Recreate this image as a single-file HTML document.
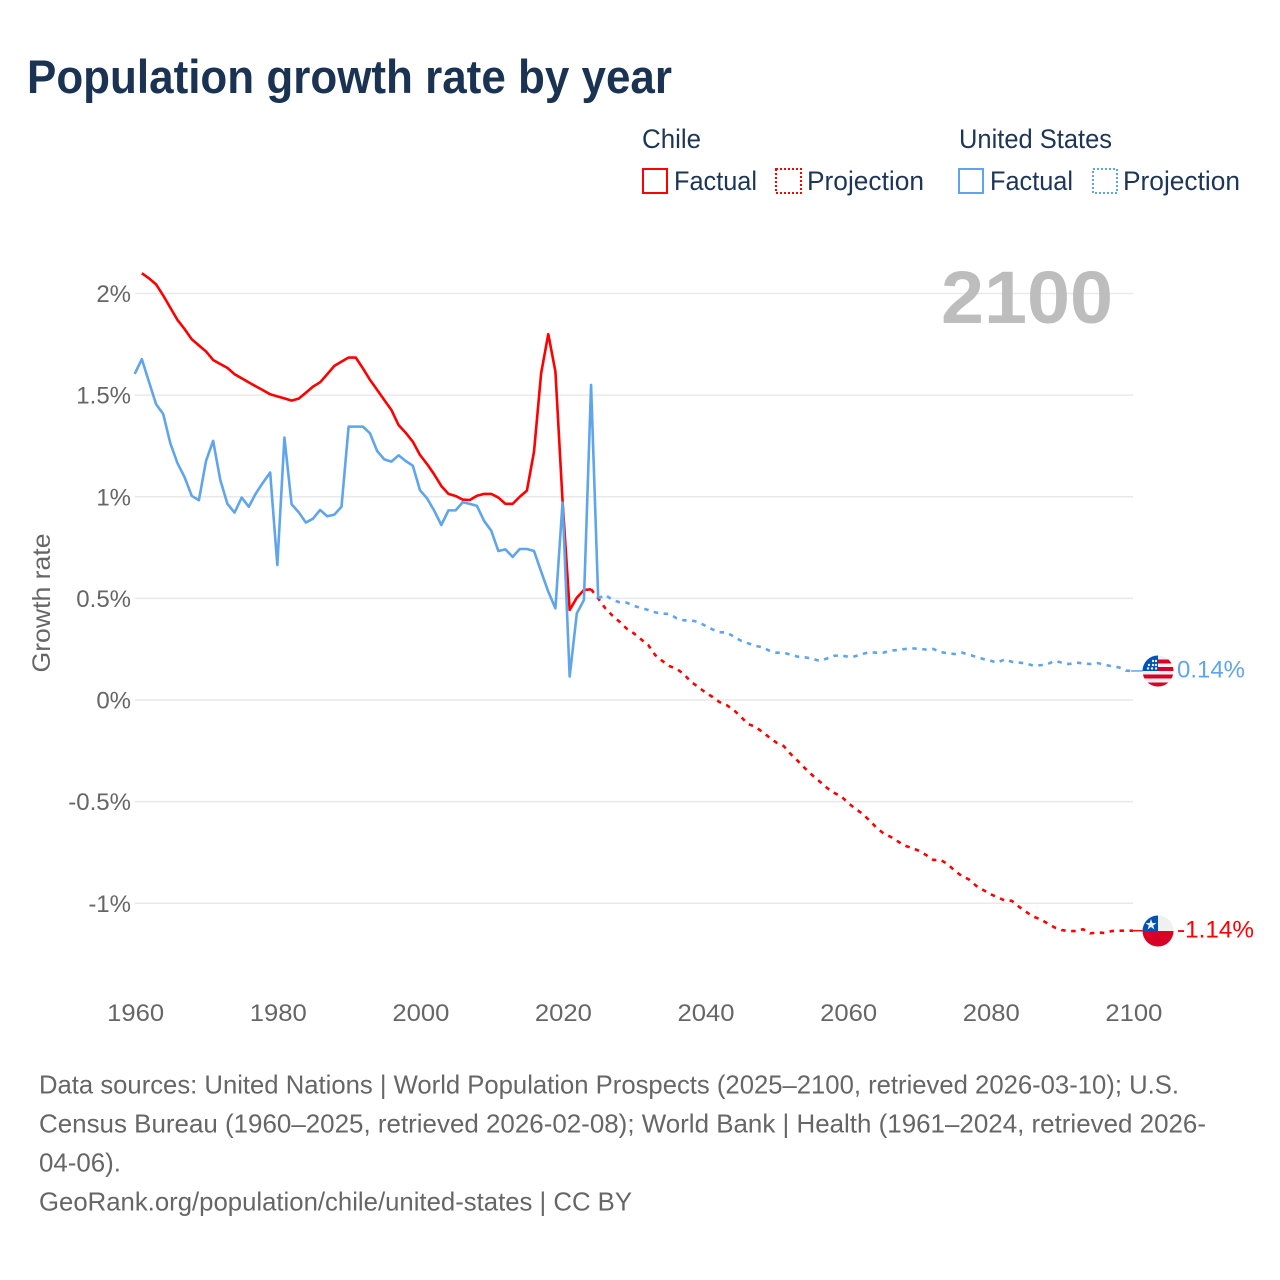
<!DOCTYPE html>
<html lang="en">
<head>
<meta charset="utf-8">
<title>Population growth rate by year</title>
<style>
html,body{margin:0;padding:0;background:#fff;}
svg{display:block;font-family:"Liberation Sans",sans-serif;}
</style>
</head>
<body>
<svg id="chart" xmlns="http://www.w3.org/2000/svg" width="1280" height="1280" viewBox="0 0 1280 1280">
  <rect width="1280" height="1280" fill="#fff"/>
  <text x="27" y="93" font-size="47" font-weight="700" fill="#1a3353" textLength="645" lengthAdjust="spacingAndGlyphs">Population growth rate by year</text>

  <g font-size="26.5" fill="#1d3557">
    <text x="642" y="148" textLength="59" lengthAdjust="spacingAndGlyphs">Chile</text>
    <text x="959" y="148" textLength="153" lengthAdjust="spacingAndGlyphs">United States</text>
    <g>
      <rect x="643" y="169" width="24" height="24" fill="none" stroke="#ff0000" stroke-width="2"/>
      <text x="674" y="190" textLength="83" lengthAdjust="spacingAndGlyphs">Factual</text>
    </g>
    <g>
      <rect x="776" y="169" width="25" height="24" fill="none" stroke="#ff0000" stroke-width="2" stroke-dasharray="2 2"/>
      <text x="807" y="190" textLength="117" lengthAdjust="spacingAndGlyphs">Projection</text>
    </g>
    <g>
      <rect x="959" y="169" width="24" height="24" fill="none" stroke="#5fa5ec" stroke-width="2"/>
      <text x="990" y="190" textLength="83" lengthAdjust="spacingAndGlyphs">Factual</text>
    </g>
    <g>
      <rect x="1093" y="169" width="24" height="24" fill="none" stroke="#5fa5ec" stroke-width="2" stroke-dasharray="2 2"/>
      <text x="1123" y="190" textLength="117" lengthAdjust="spacingAndGlyphs">Projection</text>
    </g>
  </g>

  <g id="grid"></g>
  <text x="941" y="323" font-size="74" font-weight="700" fill="#bdbdbd" textLength="172" lengthAdjust="spacingAndGlyphs">2100</text>
  <text transform="translate(50,603) rotate(-90)" text-anchor="middle" font-size="25" fill="#666" textLength="139" lengthAdjust="spacingAndGlyphs">Growth rate</text>
  <g id="yticks"></g>
  <g id="xticks"></g>
  <g id="series"></g>

  <defs>
    <clipPath id="us-clip"><circle cx="1158" cy="671" r="15.5"/></clipPath>
    <clipPath id="cl-clip"><circle cx="1158" cy="931" r="15.5"/></clipPath>
  </defs>
  <g clip-path="url(#us-clip)">
    <rect x="1142" y="655" width="32" height="32" fill="#f0f0f0"/>
    <rect x="1158" y="659.5" width="16" height="4" fill="#d80027"/>
    <rect x="1158" y="667" width="16" height="4" fill="#d80027"/>
    <rect x="1142" y="674.5" width="32" height="4" fill="#d80027"/>
    <rect x="1142" y="682.5" width="32" height="4" fill="#d80027"/>
    <rect x="1142" y="655" width="16" height="16" fill="#0052b4"/>
    <circle cx="1149" cy="665" r="1.2" fill="#f0f0f0"/>
    <circle cx="1153" cy="665" r="1.2" fill="#f0f0f0"/>
    <circle cx="1156" cy="665" r="1.2" fill="#f0f0f0"/>
    <circle cx="1153" cy="661" r="1.2" fill="#f0f0f0"/>
    <circle cx="1156" cy="661" r="1.2" fill="#f0f0f0"/>
    <circle cx="1156" cy="668.5" r="1.2" fill="#f0f0f0"/>
    <circle cx="1152" cy="668.5" r="1.2" fill="#f0f0f0"/>
    <circle cx="1148" cy="668.5" r="1.2" fill="#f0f0f0"/>
  </g>
  <g clip-path="url(#cl-clip)">
    <rect x="1142" y="915" width="32" height="16" fill="#f0f0f0"/>
    <rect x="1142" y="931" width="32" height="16" fill="#d80027"/>
    <rect x="1142" y="915" width="16" height="16" fill="#0052b4"/>
    <polygon points="1151,919 1152.4,923 1156.5,923 1153.2,925.5 1154.4,929.5 1151,927 1147.6,929.5 1148.8,925.5 1145.5,923 1149.6,923" fill="#f0f0f0"/>
  </g>
  <text x="1177" y="677.5" font-size="24.5" fill="#5fa5ec" textLength="68" lengthAdjust="spacingAndGlyphs">0.14%</text>
  <text x="1177" y="937.5" font-size="24.5" fill="#ff0000" textLength="77" lengthAdjust="spacingAndGlyphs">-1.14%</text>

  <g font-size="26" fill="#666">
    <text x="39" y="1093.5" textLength="1140" lengthAdjust="spacingAndGlyphs">Data sources: United Nations | World Population Prospects (2025–2100, retrieved 2026-03-10); U.S.</text>
    <text x="39" y="1132.5" textLength="1167" lengthAdjust="spacingAndGlyphs">Census Bureau (1960–2025, retrieved 2026-02-08); World Bank | Health (1961–2024, retrieved 2026-</text>
    <text x="39" y="1171.5" textLength="82" lengthAdjust="spacingAndGlyphs">04-06).</text>
    <text x="39" y="1210.5" textLength="593" lengthAdjust="spacingAndGlyphs">GeoRank.org/population/chile/united-states | CC BY</text>
  </g>
</svg>
<script>
const xTickYears = [1960, 1980, 2000, 2020, 2040, 2060, 2080, 2100];
const yTickValues = [2, 1.5, 1, 0.5, 0, -0.5, -1];
const yTickLabels = ['2%', '1.5%', '1%', '0.5%', '0%', '-0.5%', '-1%'];
const chileFactualStart = 1961;
const chileFactual = [2.10,2.075,2.045,1.99,1.93,1.87,1.825,1.775,1.745,1.715,1.673,1.653,1.634,1.603,1.583,1.563,1.543,1.524,1.504,1.494,1.484,1.473,1.483,1.512,1.542,1.563,1.603,1.644,1.665,1.685,1.685,1.632,1.575,1.526,1.476,1.427,1.353,1.315,1.271,1.206,1.161,1.11,1.053,1.014,1.004,0.986,0.984,1.005,1.014,1.014,0.996,0.965,0.965,1.0,1.03,1.222,1.608,1.80,1.616,0.98,0.443,0.503,0.541,0.545];
const chileProjectionStart = 2024;
const chileProjection = [0.545,0.50,0.451,0.415,0.385,0.351,0.328,0.299,0.271,0.221,0.192,0.167,0.153,0.128,0.09,0.065,0.038,0.016,-0.01,-0.025,-0.049,-0.082,-0.118,-0.131,-0.156,-0.184,-0.21,-0.226,-0.266,-0.3,-0.336,-0.369,-0.399,-0.43,-0.456,-0.471,-0.505,-0.533,-0.558,-0.591,-0.627,-0.656,-0.673,-0.695,-0.717,-0.728,-0.742,-0.763,-0.787,-0.787,-0.807,-0.84,-0.866,-0.883,-0.914,-0.935,-0.955,-0.971,-0.986,-0.988,-1.017,-1.042,-1.066,-1.078,-1.099,-1.119,-1.132,-1.137,-1.137,-1.128,-1.148,-1.144,-1.146,-1.137,-1.135,-1.135,-1.135];
const usFactualStart = 1960;
const usFactual = [1.604,1.677,1.566,1.455,1.407,1.263,1.165,1.096,1.004,0.983,1.176,1.275,1.083,0.965,0.922,0.996,0.951,1.017,1.07,1.119,0.664,1.291,0.963,0.924,0.873,0.892,0.935,0.904,0.912,0.951,1.345,1.345,1.345,1.312,1.225,1.184,1.173,1.204,1.176,1.153,1.033,0.992,0.932,0.861,0.933,0.933,0.973,0.965,0.955,0.881,0.833,0.733,0.741,0.704,0.743,0.743,0.733,0.632,0.533,0.451,0.971,0.115,0.426,0.492,1.55,0.50];
const usProjectionStart = 2025;
const usProjection = [0.50,0.517,0.492,0.481,0.479,0.463,0.453,0.443,0.431,0.425,0.423,0.402,0.392,0.392,0.384,0.366,0.348,0.333,0.333,0.312,0.292,0.279,0.267,0.259,0.243,0.233,0.233,0.223,0.213,0.21,0.203,0.193,0.203,0.217,0.22,0.213,0.215,0.226,0.235,0.233,0.233,0.243,0.246,0.251,0.254,0.252,0.248,0.251,0.236,0.23,0.226,0.233,0.223,0.212,0.202,0.193,0.184,0.2,0.188,0.184,0.18,0.169,0.171,0.176,0.193,0.184,0.177,0.184,0.18,0.177,0.182,0.174,0.166,0.161,0.144,0.143];

const SVG_NS = 'http://www.w3.org/2000/svg';
function xScale(year) { return 134.7 + (year - 1960) * (1133 - 134.7) / 140; }
function yScale(value) { return 700 - value * 203.25; }
function pathFrom(values, startYear) {
  return values.map(function (v, i) {
    return (i ? 'L' : 'M') + xScale(startYear + i).toFixed(2) + ' ' + yScale(v).toFixed(2);
  }).join(' ');
}

const gridGroup = document.getElementById('grid');
const yTickGroup = document.getElementById('yticks');
yTickValues.forEach(function (v, i) {
  const line = document.createElementNS(SVG_NS, 'line');
  
  
  line.setAttribute('x1', xScale(1960));
  line.setAttribute('x2', xScale(2100));
  line.setAttribute('y1', yScale(v));
  line.setAttribute('y2', yScale(v));
  line.setAttribute('stroke', '#e9e9e9');
  line.setAttribute('stroke-width', '1.5');
  gridGroup.appendChild(line);
  const label = document.createElementNS(SVG_NS, 'text');
  
  
  label.setAttribute('x', 131);
  label.setAttribute('y', yScale(v) + 8.5);
  label.setAttribute('text-anchor', 'end');
  label.setAttribute('font-size', '24');
  label.setAttribute('fill', '#666');
  label.textContent = yTickLabels[i];
  yTickGroup.appendChild(label);
});

const xTickGroup = document.getElementById('xticks');
xTickYears.forEach(function (year) {
  const label = document.createElementNS(SVG_NS, 'text');
  
  
  label.setAttribute('x', xScale(year) + 0.9);
  label.setAttribute('y', 1021);
  label.setAttribute('text-anchor', 'middle');
  label.setAttribute('font-size', '24.5');
  label.setAttribute('fill', '#666');
  label.setAttribute('textLength', '57');
  label.setAttribute('lengthAdjust', 'spacingAndGlyphs');
  label.textContent = String(year);
  xTickGroup.appendChild(label);
});

const seriesGroup = document.getElementById('series');

const chileProjectionLine = document.createElementNS(SVG_NS, 'path');


chileProjectionLine.setAttribute('d', pathFrom(chileProjection, chileProjectionStart));
chileProjectionLine.setAttribute('fill', 'none');
chileProjectionLine.setAttribute('stroke', '#ff0000');
chileProjectionLine.setAttribute('stroke-width', '2.6');
chileProjectionLine.setAttribute('stroke-dasharray', '4.5 5.5');
seriesGroup.appendChild(chileProjectionLine);

const chileFactualLine = document.createElementNS(SVG_NS, 'path');


chileFactualLine.setAttribute('d', pathFrom(chileFactual, chileFactualStart));
chileFactualLine.setAttribute('fill', 'none');
chileFactualLine.setAttribute('stroke', '#ff0000');
chileFactualLine.setAttribute('stroke-width', '2.6');
chileFactualLine.setAttribute('stroke-linejoin', 'round');
seriesGroup.appendChild(chileFactualLine);

const usProjectionLine = document.createElementNS(SVG_NS, 'path');


usProjectionLine.setAttribute('d', pathFrom(usProjection, usProjectionStart));
usProjectionLine.setAttribute('fill', 'none');
usProjectionLine.setAttribute('stroke', '#5fa5ec');
usProjectionLine.setAttribute('stroke-width', '2.6');
usProjectionLine.setAttribute('stroke-dasharray', '4.5 5.5');
seriesGroup.appendChild(usProjectionLine);

const usFactualLine = document.createElementNS(SVG_NS, 'path');


usFactualLine.setAttribute('d', pathFrom(usFactual, usFactualStart));
usFactualLine.setAttribute('fill', 'none');
usFactualLine.setAttribute('stroke', '#5fa5ec');
usFactualLine.setAttribute('stroke-width', '2.6');
usFactualLine.setAttribute('stroke-linejoin', 'round');
seriesGroup.appendChild(usFactualLine);

const chileConnector = document.createElementNS(SVG_NS, 'line');


chileConnector.setAttribute('x1', xScale(2100));
chileConnector.setAttribute('x2', 1144);
chileConnector.setAttribute('y1', yScale(chileProjection[chileProjection.length - 1]));
chileConnector.setAttribute('y2', yScale(chileProjection[chileProjection.length - 1]));
chileConnector.setAttribute('stroke', '#ff0000');
chileConnector.setAttribute('stroke-width', '1.5');
seriesGroup.appendChild(chileConnector);

const usConnector = document.createElementNS(SVG_NS, 'line');


usConnector.setAttribute('x1', xScale(2100) - 2);
usConnector.setAttribute('x2', 1144);
usConnector.setAttribute('y1', yScale(usProjection[usProjection.length - 1]));
usConnector.setAttribute('y2', yScale(usProjection[usProjection.length - 1]));
usConnector.setAttribute('stroke', '#5fa5ec');
usConnector.setAttribute('stroke-width', '1.5');
seriesGroup.appendChild(usConnector);
</script>
</body>
</html>
